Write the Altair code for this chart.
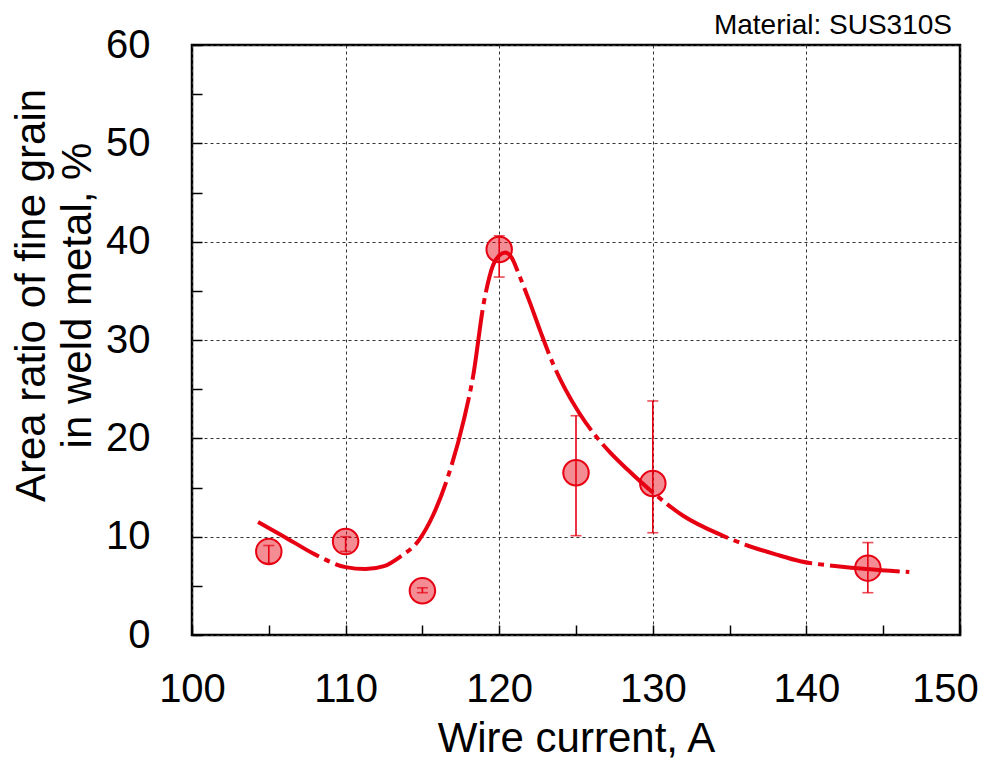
import altair as alt
import pandas as pd

# measured points
current = [105, 110, 115, 120, 125, 130, 144]
ratio = [8.5, 9.5, 4.5, 39.2, 16.5, 15.4, 6.8]
err_low = [7.3, 8.5, 4.3, 36.4, 10.1, 10.4, 4.3]
err_high = [9.1, 10.0, 4.8, 40.6, 22.3, 23.8, 9.4]

# fitted trend curve
fit_x = [104.3, 106, 108, 110, 111.3, 112.5, 113.5, 114.8, 115.7, 116.6, 117.7, 118.3,
         119.0, 119.6, 120.0, 120.4, 120.8, 121.3, 122.0, 122.7, 123.5, 124.3, 125.2,
         126.3, 127.2, 128.3, 130, 132, 134.4, 136, 138, 139.6, 142, 143.9, 146.7]
fit_y = [11.5, 10.0, 8.2, 6.9, 6.7, 7.0, 7.9, 9.7, 12.2, 15.8, 21.9, 26.3,
         33.8, 37.6, 38.6, 38.9, 38.4, 36.6, 33.8, 30.8, 27.6, 25.0, 22.6,
         20.2, 18.6, 16.9, 14.5, 12.1, 10.2, 9.2, 8.2, 7.5, 7.0, 6.7, 6.4]

x_ticks = [100, 105, 110, 115, 120, 125, 130, 135, 140, 145, 150]
y_ticks = [0, 5, 10, 15, 20, 25, 30, 35, 40, 45, 50, 55, 60]
note = ["Material: SUS310S"]

pts = pd.DataFrame({"current": current, "ratio": ratio, "lo": err_low, "hi": err_high})
fit = pd.DataFrame({"current": fit_x, "ratio": fit_y})
note_df = pd.DataFrame({"text": note})

RED = "#e60012"
FONT = "Liberation Sans"

x_scale = alt.Scale(domain=[100, 150], nice=False, zero=False)
y_scale = alt.Scale(domain=[0, 60], nice=False, zero=False)

grid_cond = {"condition": {"test": "datum.value % 10 === 0", "value": 1}, "value": 0}

x_axis = alt.Axis(
    values=x_ticks,
    labelExpr="datum.value % 10 === 0 ? datum.label : ''",
    labelFlush=False,
    labelOffset={"condition": {"test": "datum.value === 150", "value": -15}, "value": 0},
    title="Wire current, A",
    grid=True,
    gridOpacity=grid_cond,
    offset=-10,
    tickSize=10,
    domain=False,
    labelPadding=34,
    titleY=126,
    titleBaseline="alphabetic",
)
y_axis = alt.Axis(
    values=y_ticks,
    labelExpr="datum.value % 10 === 0 ? datum.label : ''",
    labelFlush=False,
    title=["Area ratio of fine grain", "in weld metal, %"],
    grid=True,
    gridOpacity=grid_cond,
    offset=-10,
    tickSize=10,
    domain=False,
    labelPadding=42,
    titleX=-158,
    titleY=250,
    titleAngle=-90,
    titleAlign="center",
    titleBaseline="alphabetic",
    titleLineHeight=46,
)

X = alt.X("current:Q", scale=x_scale, axis=x_axis)

line = alt.Chart(fit).mark_line(
    color=RED, strokeWidth=4, interpolate="monotone", strokeDash=[70, 6, 6, 6]
).encode(x=X, y=alt.Y("ratio:Q", scale=y_scale, axis=y_axis))

dots = alt.Chart(pts).mark_point(
    shape="circle", size=650, filled=True, fill=RED, fillOpacity=0.45,
    stroke=RED, strokeWidth=2, opacity=1
).encode(x=X, y=alt.Y("ratio:Q", scale=y_scale, axis=y_axis))

bars = alt.Chart(pts).mark_errorbar(
    ticks=True, size=11, thickness=1.6, color=RED
).encode(x=X, y=alt.Y("lo:Q", scale=y_scale, axis=y_axis), y2="hi:Q")

label = alt.Chart(note_df).mark_text(
    align="right", baseline="alphabetic", font=FONT, fontSize=28, color="black"
).encode(text="text:N", x=alt.value(760), y=alt.value(-11))

chart = (
    alt.layer(line, dots, bars, label)
    .properties(
        width=768,
        height=590,
        autosize=alt.AutoSizeParams(type="none"),
        padding={"left": 184, "top": 37, "right": 30, "bottom": 126},
    )
    .configure_view(stroke="black", strokeWidth=2.5)
    .configure_axis(
        labelFont=FONT, labelFontSize=40, labelColor="black",
        titleFont=FONT, titleFontSize=42, titleFontWeight="normal", titleColor="black",
        tickColor="black", tickWidth=1.5,
        gridColor="#333333", gridDash=[3, 3], gridWidth=1,
    )
)

chart.save("out.html", embed_options={"renderer": "svg", "actions": False})
